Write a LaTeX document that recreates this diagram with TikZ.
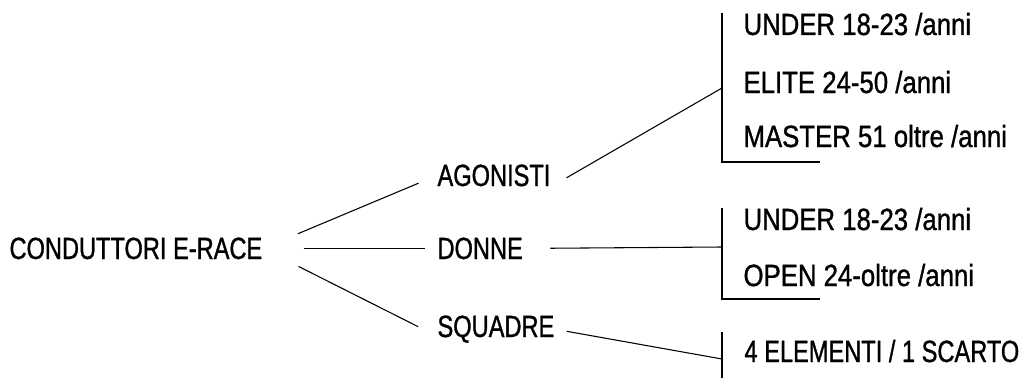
\documentclass[tikz,border=0pt]{standalone}
\usepackage{fontspec}
\setmainfont{Liberation Sans}[FakeStretch=0.84,FakeBold=1]
\newfontfamily\capsfont{Liberation Sans}[FakeStretch=0.77,FakeBold=1]

\begin{document}
\begin{tikzpicture}[x=0.75pt,y=-0.75pt,line width=0.8pt,
  voce/.style={anchor=base west,inner sep=0pt,font=\capsfont\fontsize{23}{27}\selectfont},
  fascia/.style={anchor=base west,inner sep=0pt,font=\fontsize{23}{27}\selectfont}]
\useasboundingbox (0,0) rectangle (1033,389);

  \node[voce] (root) at (9,259) {CONDUTTORI E-RACE};
  \node[voce] (ag) at (437,186) {AGONISTI};
  \node[voce] (don) at (437,259) {DONNE};
  \node[voce] (sq) at (437,337) {SQUADRE};

  \node[fascia] (ag1) at (743,35) {UNDER 18-23 /anni};
  \node[fascia] (ag2) at (743,93) {ELITE 24-50 /anni};
  \node[fascia] (ag3) at (743,147) {MASTER 51 oltre /anni};
  \node[fascia] (don1) at (743,230) {UNDER 18-23 /anni};
  \node[fascia] (don2) at (743,286) {OPEN 24-oltre /anni};
  \node[voce] (sq1) at (744,362) {4 ELEMENTI / 1 SCARTO};

  \coordinate (k1) at (722,88);
  \coordinate (k2) at (722,247);
  \coordinate (k3) at (722,359);

  \draw (722,13) |- (820,162);
  \draw (722,208) |- (820,299);
  \draw (722,332) -- (722,378);

  \draw[shorten <=28.5pt,shorten >=15pt] (root.east) -- (ag.west);
  \draw[shorten <=30.75pt,shorten >=9pt] (root.east) -- (don.west);
  \draw[shorten <=30pt,shorten >=15.75pt] (root.east) -- ([yshift=-5.25pt]sq.west);

  \draw[shorten <=13.5pt] (ag.south east) -- (k1);
  \draw[shorten <=20.25pt] (don.east) -- (k2);
  \draw[shorten <=9pt] (sq.east) -- (k3);

\end{tikzpicture}
\end{document}
